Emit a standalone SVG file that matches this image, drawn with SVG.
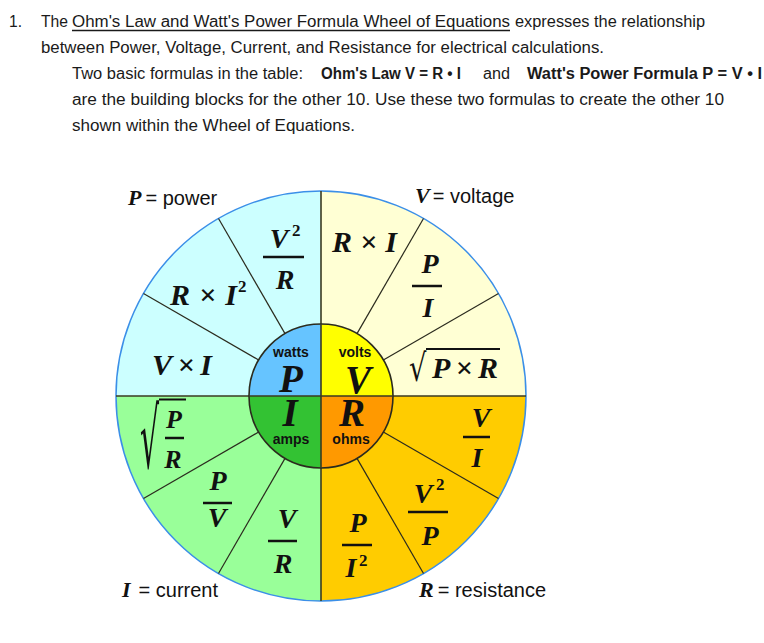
<svg xmlns="http://www.w3.org/2000/svg" width="764" height="643" viewBox="0 0 764 643">
<style>
.body{font-family:"Liberation Sans",Arial,sans-serif;font-size:16px;fill:#1a1a1a}
.b{font-weight:bold}
.eq{font-family:"Liberation Serif","Times New Roman",serif;font-weight:bold;font-style:italic;font-size:30px;fill:#111}
.fr{font-family:"Liberation Serif","Times New Roman",serif;font-weight:bold;font-style:italic;font-size:28px;fill:#111;text-anchor:middle}
.sup{font-family:"Liberation Serif","Times New Roman",serif;font-weight:bold;font-size:17px;fill:#111}
.big{font-family:"Liberation Serif","Times New Roman",serif;font-weight:bold;font-style:italic;font-size:39px;fill:#111;text-anchor:middle}
.unit{font-family:"Liberation Sans",Arial,sans-serif;font-weight:bold;font-size:14px;fill:#111;text-anchor:middle}
.lab{font-family:"Liberation Sans",Arial,sans-serif;font-size:20px;fill:#111}
.labv{font-family:"Liberation Serif","Times New Roman",serif;font-weight:bold;font-style:italic;font-size:22px;fill:#111}
.rad{font-family:"DejaVu Sans",sans-serif;font-size:26px;fill:#111}
.bar{stroke:#111;stroke-width:2.5}
.spoke{stroke:#2b2b1e;stroke-width:1.2;fill:none}
.axis{stroke:#3a3a22;stroke-width:1.6}
</style>

<g id="intro" class="body">
<text x="9" y="27" textLength="13" lengthAdjust="spacingAndGlyphs">1.</text>
<text x="41" y="27" textLength="27" lengthAdjust="spacingAndGlyphs">The</text>
<text x="72" y="27" textLength="438" lengthAdjust="spacingAndGlyphs">Ohm's Law and Watt's Power Formula Wheel of Equations</text>
<line x1="72" y1="30.5" x2="510" y2="30.5" stroke="#1a1a1a" stroke-width="1.3"/>
<text x="515" y="27" textLength="190" lengthAdjust="spacingAndGlyphs">expresses the relationship</text>
<text x="41" y="53" textLength="563" lengthAdjust="spacingAndGlyphs">between Power, Voltage, Current, and Resistance for electrical calculations.</text>
<text x="72" y="79" textLength="231" lengthAdjust="spacingAndGlyphs">Two basic formulas in the table:</text>
<text x="321" y="79" class="b" textLength="140" lengthAdjust="spacingAndGlyphs">Ohm's Law V = R • I</text>
<text x="483" y="79" textLength="27" lengthAdjust="spacingAndGlyphs">and</text>
<text x="527" y="79" class="b" textLength="235" lengthAdjust="spacingAndGlyphs">Watt's Power Formula P = V • I</text>
<text x="72" y="105" textLength="652" lengthAdjust="spacingAndGlyphs">are the building blocks for the other 10.  Use these two formulas to create the other 10</text>
<text x="72" y="131" textLength="283" lengthAdjust="spacingAndGlyphs">shown within the Wheel of Equations.</text>
</g>

<g id="wheel">
<g id="quadrants">
<path id="q-power" d="M321,396 L116,396 A205,205 0 0 1 321,191 Z" fill="#ccffff"/>
<path id="q-voltage" d="M321,396 L321,191 A205,205 0 0 1 526,396 Z" fill="#ffffd4"/>
<path id="q-resistance" d="M321,396 L526,396 A205,205 0 0 1 321,601 Z" fill="#ffcc00"/>
<path id="q-current" d="M321,396 L321,601 A205,205 0 0 1 116,396 Z" fill="#99ff99"/>
</g>
<circle cx="321" cy="396" r="205" fill="none" stroke="#3b8fe8" stroke-width="1.5"/>
<g id="spokes" class="spoke">
<line x1="383.35" y1="432" x2="498.5" y2="498.5"/>
<line x1="357" y1="458.35" x2="423.5" y2="573.5"/>
<line x1="285" y1="458.35" x2="218.5" y2="573.5"/>
<line x1="258.65" y1="432" x2="143.5" y2="498.5"/>
<line x1="258.65" y1="360" x2="143.5" y2="293.5"/>
<line x1="285" y1="333.65" x2="218.5" y2="218.5"/>
<line x1="357" y1="333.65" x2="423.5" y2="218.5"/>
<line x1="383.35" y1="360" x2="498.5" y2="293.5"/>
</g>
<g id="axes" class="axis">
<line x1="116" y1="396" x2="526" y2="396"/>
<line x1="321" y1="191" x2="321" y2="601"/>
</g>
<g id="hub">
<path d="M321,396 L249,396 A72,72 0 0 1 321,324 Z" fill="#66c4ff"/>
<path d="M321,396 L321,324 A72,72 0 0 1 393,396 Z" fill="#ffff00"/>
<path d="M321,396 L393,396 A72,72 0 0 1 321,468 Z" fill="#ff9900"/>
<path d="M321,396 L321,468 A72,72 0 0 1 249,396 Z" fill="#33c233"/>
<circle cx="321" cy="396" r="72" fill="none" stroke="#2b2b1e" stroke-width="1.6"/>
<line x1="249" y1="396" x2="393" y2="396" class="axis"/>
<line x1="321" y1="324" x2="321" y2="468" class="axis"/>
<text class="unit" x="291" y="357">watts</text>
<text class="big" x="291" y="392">P</text>
<text class="unit" x="355" y="357">volts</text>
<text class="big" x="358" y="393">V</text>
<text class="big" x="290" y="426">I</text>
<text class="unit" x="291" y="444">amps</text>
<text class="big" x="352" y="426">R</text>
<text class="unit" x="351" y="444">ohms</text>
</g>

<g id="power-formulas">
<text class="fr" x="279" y="248">V</text><text class="sup" x="292" y="236">2</text>
<line class="bar" x1="263" y1="257" x2="304" y2="257"/>
<text class="fr" x="285" y="289">R</text>
<text class="eq" x="170" y="305" textLength="67" lengthAdjust="spacing">R×I</text><text class="sup" x="238" y="292">2</text>
<text class="eq" x="152" y="375" textLength="60" lengthAdjust="spacing">V×I</text>
</g>

<g id="voltage-formulas">
<text class="eq" x="332" y="252" textLength="65" lengthAdjust="spacing">R×I</text>
<text class="fr" x="430" y="273">P</text>
<line class="bar" x1="412" y1="286" x2="442" y2="286"/>
<text class="fr" x="428" y="317">I</text>
<text class="rad" transform="translate(409,381) scale(1.05,1.45)">√</text>
<line x1="426" y1="349" x2="500" y2="349" stroke="#111" stroke-width="2"/>
<text class="eq" x="432" y="378" textLength="66" lengthAdjust="spacing">P×R</text>
</g>

<g id="resistance-formulas">
<text class="fr" x="481" y="427">V</text>
<line class="bar" x1="463" y1="437" x2="490" y2="437"/>
<text class="fr" x="477" y="467">I</text>
<text class="fr" x="423" y="503">V</text><text class="sup" x="436" y="490">2</text>
<line class="bar" x1="408" y1="512" x2="448" y2="512"/>
<text class="fr" x="430" y="545">P</text>
<text class="fr" x="358" y="532">P</text>
<line class="bar" x1="342" y1="545" x2="372" y2="545"/>
<text class="fr" x="351" y="577">I</text><text class="sup" x="359" y="566">2</text>
</g>

<g id="current-formulas">
<text class="fr" x="218" y="490">P</text>
<line class="bar" x1="203" y1="503" x2="232" y2="503"/>
<text class="fr" x="217" y="527">V</text>
<text class="fr" x="287" y="528">V</text>
<line class="bar" x1="268" y1="541" x2="297" y2="541"/>
<text class="fr" x="283" y="573">R</text>
<text class="rad" transform="translate(140,468) scale(1.15,3.2)">√</text>
<line x1="159" y1="399.5" x2="186" y2="399.5" stroke="#111" stroke-width="2"/>
<text class="fr" x="174" y="428" style="font-size:26px">P</text>
<line class="bar" x1="165" y1="438" x2="184" y2="438"/>
<text class="fr" x="173" y="468" style="font-size:26px">R</text>
</g>
</g>

<g id="legend">
<text x="128" y="205"><tspan class="labv">P</tspan><tspan class="lab" dx="4">= power</tspan></text>
<text x="415" y="203"><tspan class="labv">V</tspan><tspan class="lab" dx="3">= voltage</tspan></text>
<text x="122" y="597"><tspan class="labv">I</tspan><tspan class="lab" dx="8">= current</tspan></text>
<text x="419" y="597"><tspan class="labv">R</tspan><tspan class="lab" dx="4">= resistance</tspan></text>
</g>
</svg>
